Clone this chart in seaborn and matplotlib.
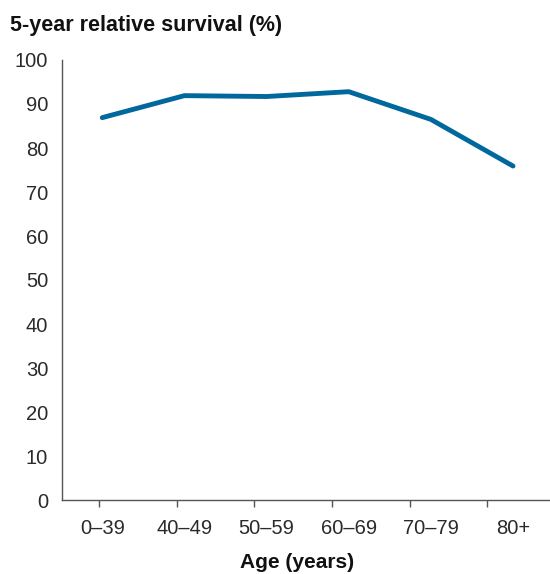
import numpy as np
import pandas as pd
import seaborn as sb
import matplotlib.pyplot as plt

# date
grupe_varsta = ["0\u201339", "40\u201349", "50\u201359", "60\u201369", "70\u201379", "80+"]
supravietuire = [86.9, 91.9, 91.7, 92.8, 86.5, 75.9]
yticks = list(range(0, 101, 10))

df = pd.DataFrame({"Age": grupe_varsta, "Survival": supravietuire})

sb.set_style("white")
plt.rcParams['font.family'] = ['Liberation Sans', 'DejaVu Sans']

fig = plt.figure(figsize=(5.5, 5.74), dpi=100)
ax = fig.add_axes([62/550, 1 - 500/574, 1 - 62/550, 440/574])

sb.lineplot(data=df, x="Age", y="Survival", color="#00689c", linewidth=3.5,
            sort=False, ax=ax, solid_capstyle="round")

ax.set_ylim(0, 100)
ax.set_xlim(-0.49, 5.45)
ax.set_yticks(yticks)
ax.set_xticks(range(len(grupe_varsta)))
ax.set_xticklabels(grupe_varsta)
ax.tick_params(axis='x', which='major', length=0, pad=14, labelsize=14.5, colors='#2a2a2a')
ax.tick_params(axis='y', length=5, width=1, color='#555555', labelsize=14.5, pad=5)
ax.tick_params(axis='y', labelcolor='#2a2a2a')
# semne de tick ca in Excel
ax.set_xticks([-0.036 + 0.944 * i for i in range(6)], minor=True)
ax.tick_params(axis='x', which='minor', length=5, width=1, color='#555555', direction='out', bottom=True)
for s in ['top', 'right']:
    ax.spines[s].set_visible(False)
for s in ['left', 'bottom']:
    ax.spines[s].set_color('#555555')
    ax.spines[s].set_linewidth(1)

ax.set_xlabel("")
ax.set_ylabel("")
fig.text(10/550, 1 - 25/574, "5-year relative survival (%)", fontsize=15.5, fontweight='bold',
         ha='left', va='center', color='#111111')
fig.text(297/550, 1 - 563/574, "Age (years)", fontsize=15, fontweight='bold',
         ha='center', va='center', color='#111111')

plt.savefig("out.png", dpi=100)
